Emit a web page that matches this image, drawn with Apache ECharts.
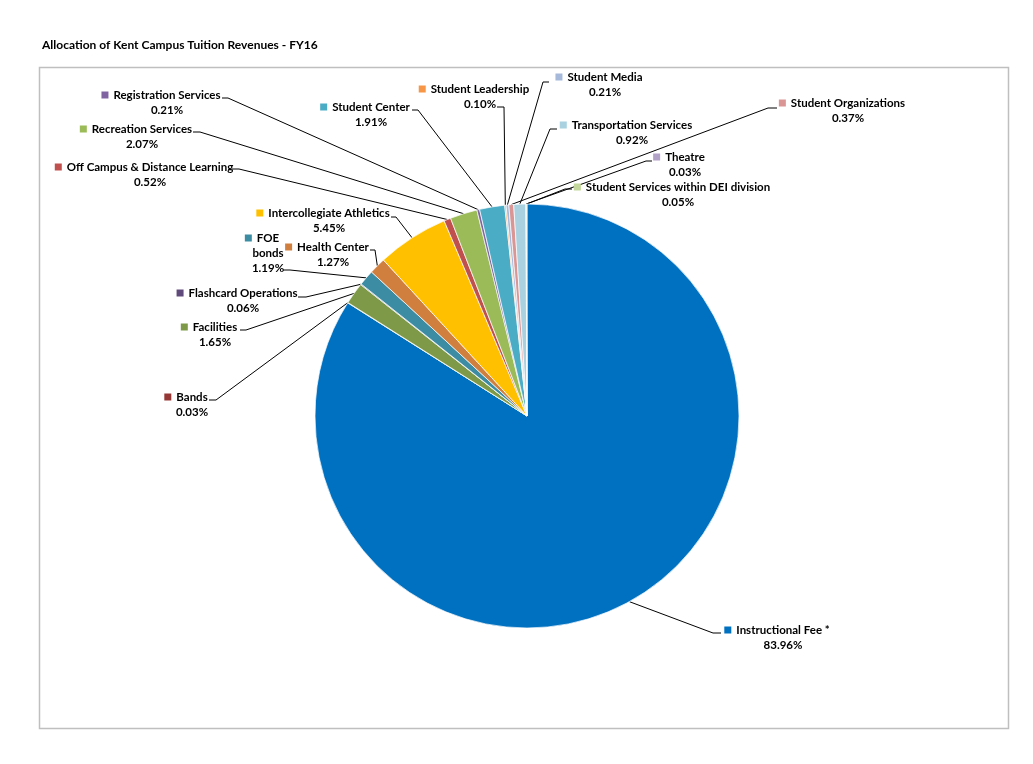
<!DOCTYPE html>
<html>
<head>
<meta charset="utf-8">
<title>Allocation of Kent Campus Tuition Revenues - FY16</title>
<script src="https://cdn.jsdelivr.net/npm/echarts@6/dist/echarts.min.js"></script>
<style>
  html, body { margin: 0; padding: 0; background: #fff; }
  #chart { width: 1033px; height: 764px; }
</style>
</head>
<body>
<div id="chart"></div>
<script>
// data (percent of tuition revenue)
const names = ['Instructional Fee *', 'Bands', 'Facilities', 'Flashcard Operations', 'FOE bonds',
  'Health Center', 'Intercollegiate Athletics', 'Off Campus & Distance Learning', 'Recreation Services',
  'Registration Services', 'Student Center', 'Student Leadership', 'Student Media',
  'Student Organizations', 'Transportation Services', 'Theatre', 'Student Services within DEI division'];
const values = [83.96, 0.03, 1.65, 0.06, 1.19, 1.27, 5.45, 0.52, 2.07, 0.21, 1.91, 0.10, 0.21, 0.37, 0.92, 0.03, 0.05];
const colors = ['#0070C0', '#953735', '#7E9A48', '#604A7B', '#3C8DA3', '#D07F3E', '#FFC000', '#C0504D',
  '#9BBB59', '#8064A2', '#4BACC6', '#F79646', '#A6B9DA', '#D99694', '#A9D1E0', '#B3A2C7', '#C3D69B'];

// label placement: [name centre x, first line y, leader end x, leader end y, elbow x]
const labelPos = [
  [783, 630, 721, 633, 713],
  [192, 397, 209, 400, 216],
  [215, 327, 240, 330, 246],
  [243, 293, 298, 297, 306],
  [268, 238, 283, 270, 290],
  [333, 247, 370, 250, 375],
  [329, 213, 391, 217, 396],
  [150, 167, 232, 169, 239],
  [142, 129, 193, 132, 200],
  [167, 95, 222, 98, 228],
  [371, 107, 412, 110, 418],
  [480, 89, 497, 107, 504],
  [605, 77, 549, 82, 543],
  [848, 103, 777, 108, 768],
  [632, 125, 557, 129, 550],
  [685, 157, 652, 161, 646],
  [678, 187, 572, 189, 565]
];

var myChart = echarts.init(document.getElementById('chart'));

const pieData = names.map((n, i) => ({ name: n, value: values[i], itemStyle: { color: colors[i] } }));

const rich = {
  b: { fontFamily: 'Lato', fontWeight: 'bold', fontSize: 11.5, color: '#000', lineHeight: 15 },
  gap: { width: 5, lineHeight: 15 },
  pad: { width: 12, lineHeight: 15 }
};
colors.forEach((c, i) => {
  rich['sq' + i] = { width: 7, height: 7, backgroundColor: c, lineHeight: 15 };
});

const option = {
  animation: false,
  title: {
    text: 'Allocation of Kent Campus Tuition Revenues - FY16',
    left: 37,
    top: 34,
    textStyle: { fontFamily: 'Lato', fontWeight: 'bold', fontSize: 12, color: '#000' }
  },
  graphic: [{
    type: 'rect',
    shape: { x: 39.5, y: 67.5, width: 969, height: 661 },
    style: { fill: 'none', stroke: '#BFBFBF', lineWidth: 1.5 },
    silent: true
  }],
  series: [{
    type: 'pie',
    center: [527, 416],
    radius: 212,
    startAngle: 90,
    clockwise: true,
    avoidLabelOverlap: false,
    data: pieData,
    itemStyle: { borderColor: '#fff', borderWidth: 0.7 },
    label: {
      show: true,
      position: 'outside',
      formatter: function (p) {
        const pct = values[p.dataIndex].toFixed(2) + '%';
        const sq = '{sq' + p.dataIndex + '|}{gap|}';
        if (p.name === 'FOE bonds') {
          return sq + '{b|FOE}{pad|}\n{b|bonds}\n{b|' + pct + '}';
        }
        return sq + '{b|' + p.name + '}{pad|}\n{b|' + pct + '}';
      },
      rich: rich
    },
    labelLine: {
      show: true,
      length: 10,
      length2: 10,
      lineStyle: { color: '#000', width: 1 }
    },
    labelLayout: function (params) {
      const lp = labelPos[params.dataIndex];
      const start = params.labelLinePoints ? params.labelLinePoints[0] : [lp[4], lp[3]];
      return {
        x: lp[0],
        y: lp[1] - 7.5,
        align: 'center',
        verticalAlign: 'top',
        labelLinePoints: [start, [lp[4], lp[3]], [lp[2], lp[3]]]
      };
    }
  }]
};
myChart.setOption(option);
window.addEventListener('resize', () => myChart.resize());
</script>
</body>
</html>
